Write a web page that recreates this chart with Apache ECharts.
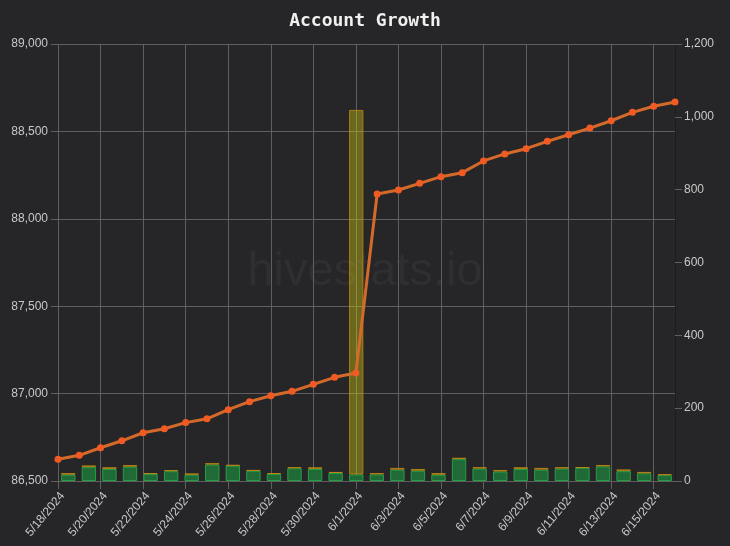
<!DOCTYPE html>
<html>
<head>
<meta charset="utf-8">
<script src="https://cdn.jsdelivr.net/npm/echarts@6/dist/echarts.min.js"></script>
<style>
html,body{margin:0;padding:0;background:#262628;}
#chart{width:730px;height:546px;}
</style>
</head>
<body>
<div id="chart"></div>
<script>
const dates = ['5/18/2024','5/19/2024','5/20/2024','5/21/2024','5/22/2024','5/23/2024','5/24/2024','5/25/2024','5/26/2024','5/27/2024','5/28/2024','5/29/2024','5/30/2024','5/31/2024','6/1/2024','6/2/2024','6/3/2024','6/4/2024','6/5/2024','6/6/2024','6/7/2024','6/8/2024','6/9/2024','6/10/2024','6/11/2024','6/12/2024','6/13/2024','6/14/2024','6/15/2024','6/16/2024'];
const balance = [86624,86647,86690,86730,86776,86799,86834,86856,86908,86954,86988,87013,87053,87093,87118,88142,88165,88203,88241,88264,88331,88371,88401,88443,88481,88519,88561,88609,88644,88668];
const greenVals = [17,38,33,39,19,27,17,45,42,28,19,35,33,22,18,18,31,28,17,60,34,26,33,31,34,36,40,27,21,16];
const yellowVals = [5,5,5,5,3,3,4,4,2,2,3,3,5,3,1001,4,5,5,5,4,4,4,5,5,4,2,4,5,4,3];
const leftTicks = {min:86500, max:89000, interval:500};
const rightTicks = {min:0, max:1200, interval:200};

const gridColor = '#5f5f62';
const labelColor = '#c8c8c8';
const fontFam = '"Liberation Sans", Arial, sans-serif';
const fmt = v => Number(v).toLocaleString('en-US');

const chart = echarts.init(document.getElementById('chart'), null, {renderer:'canvas'});
chart.setOption({
  backgroundColor:'#262628',
  animation:false,
  title:{
    text:'Account Growth', left:'center', top:7,
    textStyle:{color:'#f0f0f0', fontFamily:'"DejaVu Sans Mono", monospace', fontWeight:'bold', fontSize:18}
  },
  graphic:[{
    type:'text', left:'center', top:249, z:0, silent:true,
    style:{text:'hivestats.io', fill:'#2f2f32', font:'47px "Liberation Sans", Arial, sans-serif'}
  }],
  grid:{left:58, right:55, top:44, bottom:65, containLabel:false},
  xAxis:[{
    type:'category', data:dates, boundaryGap:false,
    axisLine:{show:true, lineStyle:{color:gridColor}},
    axisTick:{show:true, interval:1, length:8, lineStyle:{color:gridColor}},
    axisLabel:{interval:1, rotate:50, color:labelColor, fontFamily:fontFam, fontSize:12, margin:9,
               align:'right', verticalAlign:'top'},
    splitLine:{show:true, interval:1, lineStyle:{color:gridColor}}
  },{
    type:'category', data:dates, boundaryGap:true, show:false
  }],
  yAxis:[{
    type:'value', position:'left', min:leftTicks.min, max:leftTicks.max, interval:leftTicks.interval,
    axisLine:{show:false},
    axisTick:{show:true, length:7, lineStyle:{color:gridColor}},
    axisLabel:{color:labelColor, fontFamily:fontFam, fontSize:12, margin:10, formatter:fmt},
    splitLine:{show:true, lineStyle:{color:gridColor}}
  },{
    type:'value', position:'right', min:rightTicks.min, max:rightTicks.max, interval:rightTicks.interval,
    axisLine:{show:true, lineStyle:{color:'#1c1c1e'}},
    axisTick:{show:true, length:7, lineStyle:{color:gridColor}},
    axisLabel:{color:labelColor, fontFamily:fontFam, fontSize:12, margin:9, formatter:fmt},
    splitLine:{show:false}
  }],
  series:[{
    name:'Green', type:'bar', stack:'b', xAxisIndex:1, yAxisIndex:1, data:greenVals,
    barWidth:'70%', z:2,
    itemStyle:{color:'#1f6a37', borderColor:'#23a043', borderWidth:1}
  },{
    name:'Yellow', type:'bar', stack:'b', xAxisIndex:1, yAxisIndex:1, data:yellowVals,
    barWidth:'70%', z:2,
    itemStyle:{color:'rgba(230,220,10,0.36)', borderColor:'rgba(200,140,20,0.75)', borderWidth:1}
  },{
    name:'Balance', type:'line', xAxisIndex:0, yAxisIndex:0, data:balance, z:5,
    symbol:'circle', symbolSize:7,
    lineStyle:{color:'#d46a2a', width:3},
    itemStyle:{color:'#f25a24'}
  }]
});
</script>
</body>
</html>
